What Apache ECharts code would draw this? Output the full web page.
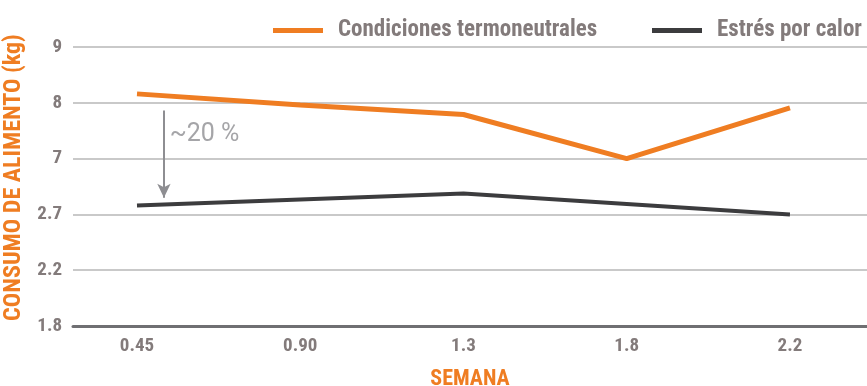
<!DOCTYPE html>
<html>
<head>
<meta charset="utf-8">
<style>
  html, body { margin: 0; padding: 0; background: #ffffff; }
  #chart { width: 867px; height: 386px; }
</style>
<script src="https://cdn.jsdelivr.net/npm/echarts@6/dist/echarts.min.js"></script>
</head>
<body>
<div id="chart"></div>
<script>
// Weeks on the horizontal axis
const semanas = ['0.45', '0.90', '1.3', '1.8', '2.2'];
// Tick labels of the (broken) vertical axis, bottom to top, equally spaced
const yTicks = [1.8, 2.2, 2.7, 7, 8, 9];
// Feed intake (kg)
const termoneutrales = [8.16, 7.96, 7.79, 7.0, 7.91];
const estresCalor = [3.39, 3.85, 4.31, 3.5, 2.7];

const FONT = '"Roboto Condensed", Roboto, sans-serif';
const ORANGE = '#ef7d22';
const DARK = '#3c3c3e';
const LABEL = '#837b7b';

// Position of a kg value on the equally spaced tick ladder
function toAxis(v) {
  for (let i = 0; i < yTicks.length - 1; i++) {
    if (v <= yTicks[i + 1]) {
      return i + (v - yTicks[i]) / (yTicks[i + 1] - yTicks[i]);
    }
  }
  return yTicks.length - 1;
}
const pts = arr => arr.map((v, i) => [i, toAxis(v)]);

const legendBase = {
  top: 14,
  icon: 'rect',
  itemWidth: 50,
  itemHeight: 5,
  textStyle: {
    fontFamily: FONT, fontWeight: 'bold', fontSize: 23, color: LABEL,
    padding: [0, 0, 0, 10]
  }
};

const chart = echarts.init(document.getElementById('chart'), null, { renderer: 'canvas' });
chart.setOption({
  animation: false,
  backgroundColor: '#ffffff',
  grid: { left: 73, right: 0, top: 47, bottom: 60, containLabel: false, outerBoundsMode: 'none' },
  legend: [
    Object.assign({}, legendBase, { left: 268, data: ['Condiciones termoneutrales'] }),
    Object.assign({}, legendBase, { left: 647, data: ['Estrés por calor'] })
  ],
  xAxis: {
    type: 'value',
    min: -0.392,
    max: 4.472,
    name: 'SEMANA',
    nameLocation: 'middle',
    nameGap: 42,
    nameTextStyle: { fontFamily: FONT, fontWeight: 'bold', fontSize: 22, color: ORANGE },
    axisLine: { show: true, lineStyle: { color: '#6f6f72', width: 3 } },
    axisTick: { show: false },
    splitLine: { show: false },
    axisLabel: {
      customValues: [0, 1, 2, 3, 4],
      formatter: v => semanas[Math.round(v)],
      fontFamily: FONT, fontWeight: 'bold', fontSize: 19, color: LABEL, margin: 11
    }
  },
  yAxis: {
    type: 'value',
    min: 0,
    max: yTicks.length - 1,
    interval: 1,
    name: 'CONSUMO DE ALIMENTO (kg)',
    nameLocation: 'middle',
    nameRotate: 90,
    nameGap: 44,
    nameTextStyle: {
      fontFamily: FONT, fontWeight: 'bold', fontSize: 24, color: ORANGE,
      padding: [0, 0, 0, 18]
    },
    axisLine: { show: false },
    axisTick: { show: false },
    splitLine: { lineStyle: { color: '#c9c9c9', width: 2 } },
    axisLabel: {
      formatter: v => String(yTicks[Math.round(v)]),
      fontFamily: FONT, fontWeight: 'bold', fontSize: 19, color: LABEL, margin: 11
    }
  },
  series: [
    {
      name: 'Condiciones termoneutrales',
      type: 'line',
      data: pts(termoneutrales),
      symbol: 'none',
      lineStyle: { color: ORANGE, width: 5 },
      itemStyle: { color: ORANGE },
      z: 3,
      markPoint: {
        silent: true,
        symbol: 'circle',
        symbolSize: 0,
        label: {
          show: true,
          position: 'right',
          distance: 0,
          formatter: '~20 %',
          color: '#a5a5a8',
          fontFamily: 'Roboto, sans-serif',
          fontSize: 25
        },
        data: [{ coord: [0.2, 3.42] }]
      }
    },
    {
      name: 'Estrés por calor',
      type: 'line',
      data: pts(estresCalor),
      symbol: 'none',
      lineStyle: { color: DARK, width: 4 },
      itemStyle: { color: DARK },
      z: 3,
      markLine: {
        silent: true,
        symbol: ['none', 'arrow'],
        symbolSize: [10, 14],
        lineStyle: { color: '#8e8e92', width: 2, type: 'solid' },
        label: { show: false },
        data: [[
          { coord: [0.165, 3.86] },
          { coord: [0.165, 2.3] }
        ]]
      }
    }
  ]
});
</script>
</body>
</html>
